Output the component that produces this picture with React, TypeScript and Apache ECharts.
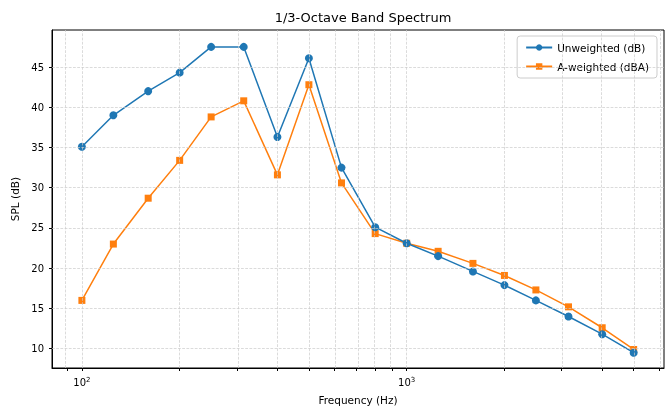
import React, { useEffect, useRef } from "react";
import * as echarts from "echarts";

const freqs = [100, 125, 160, 200, 250, 315, 400, 500, 630, 800, 1000, 1250, 1600, 2000, 2500, 3150, 4000, 5000];
const unweighted = [35.1, 39.0, 42.0, 44.3, 47.5, 47.5, 36.3, 46.1, 32.5, 25.1, 23.1, 21.5, 19.6, 17.9, 16.0, 14.0, 11.8, 9.5];
const aWeighted = [16.0, 23.0, 28.7, 33.4, 38.8, 40.8, 31.6, 42.8, 30.6, 24.3, 23.1, 22.1, 20.6, 19.1, 17.3, 15.2, 12.6, 9.9];
const gridFreqs = [90, 100, 200, 300, 400, 500, 600, 700, 800, 900, 1000, 2000, 3000, 4000, 5000, 6000];
const yTicks = [10, 15, 20, 25, 30, 35, 40, 45];

const lg = (v: number) => Math.log10(v);

export default function App() {
  const ref = useRef<HTMLDivElement>(null);
  useEffect(() => {
    const chart = echarts.init(ref.current!, null, { renderer: "svg" });
    const font = "DejaVu Sans";
    chart.setOption({
      animation: false,
      textStyle: { fontFamily: font },
      title: {
        text: "1/3-Octave Band Spectrum",
        left: 358, textAlign: "center", top: 6,
        textStyle: { fontSize: 13, fontWeight: "normal", color: "#000", fontFamily: font },
      },
      grid: { left: 52, right: 7, top: 30, bottom: 51, show: true, borderColor: "#000", borderWidth: 1, backgroundColor: "transparent" },
      legend: {
        orient: "vertical", right: 14, top: 36, padding: [6, 8],
        borderColor: "#ccc", borderWidth: 1, borderRadius: 3,
        itemWidth: 26, itemHeight: 8, itemGap: 8,
        textStyle: { fontSize: 10.5, color: "#000", fontFamily: font },
      },
      xAxis: {
        type: "value", min: lg(80.9), max: lg(6200),
        name: "Frequency (Hz)", nameLocation: "middle", nameGap: 26,
        nameTextStyle: { fontSize: 10.5, color: "#000", fontFamily: font },
        axisLine: { lineStyle: { color: "#000" } },
        axisTick: { customValues: gridFreqs.map(lg), length: 3, lineStyle: { color: "#000" } },
        axisLabel: {
          customValues: [2, 3], color: "#000", fontSize: 10,
          formatter: (v: number) => "10{s|" + Math.round(v) + "}",
          rich: { s: { fontSize: 7, verticalAlign: "top", padding: [0, 0, 6, 0], color: "#000" } },
        },
        splitLine: { show: false },
      },
      yAxis: {
        type: "value", min: 7.6, max: 49.6,
        name: "SPL (dB)", nameLocation: "middle", nameGap: 30,
        nameTextStyle: { fontSize: 10.5, color: "#000", fontFamily: font },
        axisLine: { show: true, lineStyle: { color: "#000" } },
        axisTick: { show: true, customValues: yTicks, length: 3, lineStyle: { color: "#000" } },
        axisLabel: { customValues: yTicks, color: "#000", fontSize: 10 },
        splitLine: { show: false },
      },
      series: [
        {
          name: "Unweighted (dB)", type: "line",
          data: freqs.map((f, i) => [lg(f), unweighted[i]]),
          symbol: "circle", symbolSize: 8,
          itemStyle: { color: "#1f77b4", borderWidth: 0 }, lineStyle: { width: 1.5, color: "#1f77b4" },
          z: 3,
          markLine: {
            silent: true, symbol: "none", label: { show: false },
            lineStyle: { color: "#ccc", type: "dashed", width: 0.7 },
            data: [
              ...gridFreqs.map((f) => ({ xAxis: lg(f) })),
              ...yTicks.map((v) => ({ yAxis: v })),
            ],
          },
        },
        {
          name: "A-weighted (dBA)", type: "line",
          data: freqs.map((f, i) => [lg(f), aWeighted[i]]),
          symbol: "rect", symbolSize: 7,
          itemStyle: { color: "#ff7f0e", borderWidth: 0 }, lineStyle: { width: 1.5, color: "#ff7f0e" },
          z: 2,
        },
      ],
    });
    return () => chart.dispose();
  }, []);
  return <div ref={ref} style={{ position: "fixed", left: 0, top: 0, width: 671, height: 419 }} />;
}
